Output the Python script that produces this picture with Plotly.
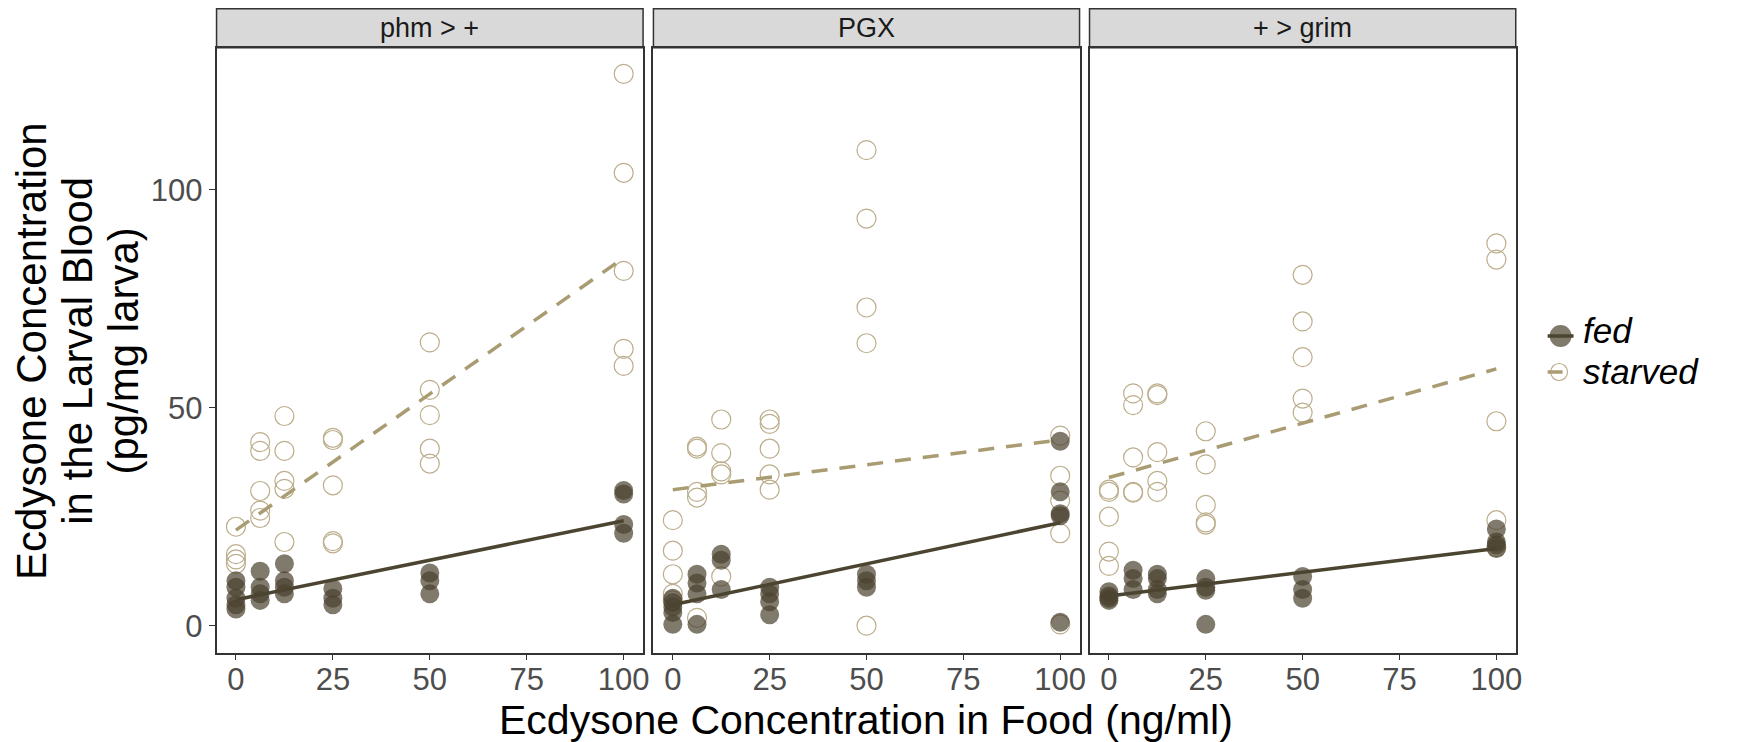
import numpy as np
import plotly.graph_objects as go

# ---------------- data ----------------
panel_labels = ["phm > +", "PGX", "+ > grim"]
legend_labels = ["fed", "starved"]
x_ticks = [0, 25, 50, 75, 100]
y_ticks = [0, 50, 100]

phm_fed_x = [0, 0, 0, 0, 0, 6.25, 6.25, 6.25, 6.25, 12.5, 12.5, 12.5, 12.5,
             25, 25, 25, 50, 50, 50, 100, 100, 100, 100]
phm_fed_y = [10.3, 8.8, 6.3, 4.8, 3.8, 12.5, 8.8, 7.3, 5.8, 14.2, 10.3, 8.8, 7.3,
             8.5, 6.3, 4.8, 12.1, 10.3, 7.3, 31.0, 30.2, 23.2, 21.2]
phm_starved_x = [0, 0, 0, 0, 6.25, 6.25, 6.25, 6.25, 6.25, 12.5, 12.5, 12.5, 12.5, 12.5,
                 25, 25, 25, 25, 25, 50, 50, 50, 50, 50, 100, 100, 100, 100, 100]
phm_starved_y = [22.7, 16.4, 15.2, 14.2, 42.1, 40.1, 30.9, 26.4, 24.7, 48.1, 40.1, 33.2, 31.4, 19.2,
                 43.1, 42.6, 32.2, 19.4, 18.9, 65.0, 54.1, 48.3, 40.6, 37.2,
                 126.6, 103.9, 81.4, 63.5, 59.6]

pgx_fed_x = [0, 0, 0, 0, 0, 6.25, 6.25, 6.25, 6.25, 12.5, 12.5, 12.5,
             25, 25, 25, 25, 50, 50, 50, 100, 100, 100, 100, 100]
pgx_fed_y = [6.3, 5.3, 4.3, 3.0, 0.3, 11.8, 9.8, 7.3, 0.3, 16.4, 15.0, 8.3,
             8.8, 7.3, 5.5, 2.5, 11.8, 10.3, 8.8, 42.3, 30.7, 25.7, 25.2, 0.8]
pgx_starved_x = [0, 0, 0, 0, 0, 6.25, 6.25, 6.25, 6.25, 6.25, 12.5, 12.5, 12.5, 12.5, 12.5,
                 25, 25, 25, 25, 25, 50, 50, 50, 50, 50, 100, 100, 100, 100, 100]
pgx_starved_y = [24.2, 17.2, 11.8, 7.3, 5.8, 41.1, 40.6, 30.7, 29.4, 1.8,
                 47.3, 39.6, 35.4, 34.7, 11.3, 47.3, 46.3, 40.6, 34.7, 31.2,
                 109.1, 93.4, 73.0, 64.8, 0.0, 43.6, 34.4, 28.7, 21.2, 0.3]

grim_fed_x = [0, 0, 0, 0, 6.25, 6.25, 6.25, 12.5, 12.5, 12.5, 12.5,
              25, 25, 25, 25, 50, 50, 50, 100, 100, 100, 100]
grim_fed_y = [7.8, 6.8, 6.3, 5.8, 12.7, 10.8, 8.3, 11.8, 10.8, 8.3, 7.3,
              10.8, 8.8, 8.1, 0.3, 11.3, 8.3, 6.3, 22.2, 19.2, 18.5, 17.7]
grim_starved_x = [0, 0, 0, 0, 0, 6.25, 6.25, 6.25, 6.25, 6.25, 12.5, 12.5, 12.5, 12.5, 12.5,
                  25, 25, 25, 25, 25, 50, 50, 50, 50, 50, 100, 100, 100, 100, 100]
grim_starved_y = [31.2, 30.7, 25.0, 17.0, 13.7, 53.3, 50.6, 38.6, 30.7, 30.5,
                  53.3, 52.9, 39.8, 33.2, 30.7, 44.6, 37.0, 27.7, 23.7, 23.2,
                  80.5, 69.8, 61.6, 52.1, 48.9, 87.7, 84.0, 46.9, 24.2, 18.0]

panels = [
    (phm_fed_x, phm_fed_y, phm_starved_x, phm_starved_y),
    (pgx_fed_x, pgx_fed_y, pgx_starved_x, pgx_starved_y),
    (grim_fed_x, grim_fed_y, grim_starved_x, grim_starved_y),
]

# ---------------- styling ----------------
W, H = 1737, 742
FONT = "Liberation Sans, Arial, Helvetica, sans-serif"
FED_FILL = "rgba(74,66,45,0.70)"
FED_LINE = "#4a4430"
STARVED_MARK = "#bcae8c"
STARVED_LINE = "#a99b72"

def px(x):
    return x / W

def py(y):
    return 1 - y / H

x_domains = [(px(217.3), px(645.3)), (px(655.7), px(1083.3)), (px(1093.3), px(1521.0))]
y_dom = (py(652.7), py(47.7))
strip_top = py(8.7)

fig = go.Figure()

for i, (fx, fy, sx, sy) in enumerate(panels):
    xa = "x" if i == 0 else f"x{i+1}"
    ya = "y" if i == 0 else f"y{i+1}"
    fig.add_trace(go.Scatter(
        x=sx, y=sy, xaxis=xa, yaxis=ya, mode="markers", showlegend=False,
        marker=dict(symbol="circle-open", size=19, color=STARVED_MARK,
                    line=dict(color=STARVED_MARK, width=1.2)),
        hoverinfo="skip"))
    fig.add_trace(go.Scatter(
        x=fx, y=fy, xaxis=xa, yaxis=ya, mode="markers", showlegend=False,
        marker=dict(symbol="circle", size=19, color=FED_FILL, line=dict(width=0)),
        hoverinfo="skip"))
    for xs, ys, col, dash in [(fx, fy, FED_LINE, "solid"), (sx, sy, STARVED_LINE, "16px,12px")]:
        b, a = np.polyfit(np.array(xs, float), np.array(ys, float), 1)
        xr = np.array([min(xs), max(xs)])
        fig.add_trace(go.Scatter(
            x=xr, y=a + b * xr, xaxis=xa, yaxis=ya, mode="lines", showlegend=False,
            line=dict(color=col, width=3.5, dash=dash), hoverinfo="skip"))

axis_common = dict(
    showgrid=False, zeroline=False, showline=True, mirror=True,
    linecolor="#333333", linewidth=1.5, ticks="outside", ticklen=6,
    tickwidth=1.3, tickcolor="#333333",
    tickfont=dict(family=FONT, size=31, color="#4d4d4d"))

layout = dict(
    width=W, height=H, margin=dict(l=0, r=0, t=0, b=0),
    paper_bgcolor="white", plot_bgcolor="white",
    font=dict(family=FONT), showlegend=False,
)
for i in range(3):
    xk = "xaxis" if i == 0 else f"xaxis{i+1}"
    yk = "yaxis" if i == 0 else f"yaxis{i+1}"
    ya = "y" if i == 0 else f"y{i+1}"
    xa = "x" if i == 0 else f"x{i+1}"
    layout[xk] = dict(axis_common, domain=x_domains[i], range=[-5, 105],
                      tickvals=x_ticks, ticktext=[str(v) for v in x_ticks], anchor=ya,
                      ticklabelstandoff=-8)
    layout[yk] = dict(axis_common, domain=y_dom, range=[-6.2, 132.6],
                      tickvals=y_ticks, ticktext=[str(v) for v in y_ticks], anchor=xa,
                      showticklabels=(i == 0), ticks=("outside" if i == 0 else ""))
fig.update_layout(**layout)

# facet strips
for i, lab in enumerate(panel_labels):
    x0, x1 = x_domains[i]
    fig.add_shape(type="rect", xref="paper", yref="paper", x0=x0, x1=x1,
                  y0=y_dom[1], y1=strip_top, fillcolor="#d9d9d9",
                  line=dict(color="#333333", width=1.5), layer="below")
    fig.add_annotation(xref="paper", yref="paper", x=(x0 + x1) / 2,
                       y=(y_dom[1] + strip_top) / 2, text=lab, showarrow=False,
                       font=dict(family=FONT, size=27, color="#1a1a1a"),
                       xanchor="center", yanchor="middle")

# axis titles
fig.add_annotation(xref="paper", yref="paper", x=px(869), y=py(720),
                   text="Ecdysone Concentration in Food (ng/ml)", showarrow=False,
                   font=dict(family=FONT, size=41, color="black"),
                   xanchor="center", yanchor="middle")
y_title_lines = ["Ecdysone Concentration", "in the Larval Blood", "(pg/mg larva)"]
for line, xc in zip(y_title_lines, [31, 77, 123]):
    fig.add_annotation(xref="paper", yref="paper", x=px(xc), y=py(351),
                       text=line, showarrow=False, textangle=-90,
                       font=dict(family=FONT, size=42, color="black"),
                       xanchor="center", yanchor="middle")

# legend (keys drawn as shapes, labels as text)
fig.add_shape(type="circle", xref="paper", yref="paper",
              x0=px(1555), x1=px(1577), y0=py(347), y1=py(325),
              fillcolor=FED_FILL, line=dict(width=0))
fig.add_shape(type="line", xref="paper", yref="paper",
              x0=px(1553), x1=px(1579), y0=py(336), y1=py(336),
              line=dict(color=FED_LINE, width=3.5))
fig.add_shape(type="circle", xref="paper", yref="paper",
              x0=px(1556), x1=px(1573), y0=py(380.5), y1=py(363.5),
              fillcolor="rgba(0,0,0,0)", line=dict(color=STARVED_MARK, width=1.2))
fig.add_shape(type="line", xref="paper", yref="paper",
              x0=px(1553), x1=px(1568), y0=py(372), y1=py(372),
              line=dict(color=STARVED_LINE, width=3.5))
for lab, yc in zip(legend_labels, [331, 371]):
    fig.add_annotation(xref="paper", yref="paper", x=px(1586), y=py(yc),
                       text=lab, showarrow=False,
                       font=dict(family=FONT, size=35, color="black", style="italic"),
                       xanchor="left", yanchor="middle")

fig.write_html("out.html")
